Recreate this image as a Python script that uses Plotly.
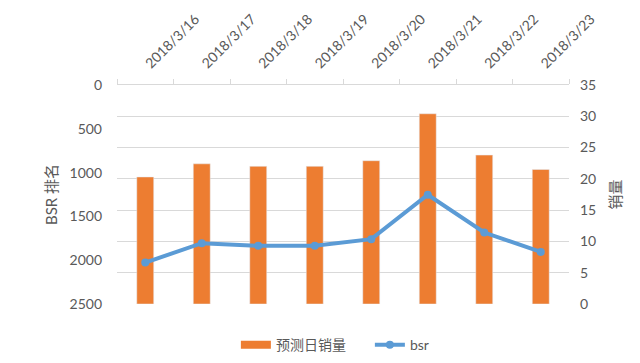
import plotly.graph_objects as go

dates = ["2018/3/16", "2018/3/17", "2018/3/18", "2018/3/19",
         "2018/3/20", "2018/3/21", "2018/3/22", "2018/3/23"]
sales = [20.3, 22.4, 22.0, 22.0, 22.9, 30.4, 23.8, 21.5]
bsr = [2027, 1806, 1836, 1836, 1760, 1253, 1684, 1905]

ORANGE = "#ED7D31"
BLUE = "#5B9BD5"
GRID = "#D9D9D9"
TXT = "#595959"
FONT = "Lato, 'Noto Sans CJK SC', sans-serif"

fig = go.Figure()
fig.add_trace(go.Bar(
    x=dates, y=sales, name="预测日销量", marker_color=ORANGE,
    yaxis="y", xaxis="x", showlegend=False))
# legend entry for the bars, drawn as a wide swatch like the original
fig.add_trace(go.Scatter(
    x=[None], y=[None], name="预测日销量", mode="lines",
    line=dict(color=ORANGE, width=8), yaxis="y", xaxis="x"))
fig.add_trace(go.Scatter(
    x=dates, y=bsr, name="bsr", mode="lines+markers",
    line=dict(color=BLUE, width=4), marker=dict(color=BLUE, size=8),
    yaxis="y2", xaxis="x"))

fig.update_layout(
    width=640, height=363,
    margin=dict(l=117, r=71, t=85, b=59, autoexpand=False),
    paper_bgcolor="white", plot_bgcolor="white",
    font=dict(family=FONT, color=TXT, size=13),
    bargap=0.7,
    showlegend=True,
    legend=dict(orientation="h", x=0.263, xanchor="left", y=-0.115, yanchor="top",
                font=dict(size=14, color=TXT), itemwidth=30, entrywidth=89),
    xaxis=dict(side="top", type="category", tickangle=-45,
               showline=True, linecolor=GRID, linewidth=1,
               ticks="outside", tickson="boundaries", ticklen=5, tickcolor=GRID,
               showgrid=False, tickfont=dict(size=14, color=TXT),
               ticklabelshift=1, ticklabelstandoff=7, automargin=False),
    yaxis=dict(side="right", range=[0, 35], dtick=5,
               showgrid=True, gridcolor=GRID, gridwidth=1, zeroline=False,
               tickfont=dict(size=14, color=TXT), automargin=False,
               ticklabelstandoff=10,
               title=dict(text="销量", font=dict(size=15, color=TXT), standoff=15)),
    yaxis2=dict(side="left", overlaying="y", range=[2500, 0], dtick=500,
                showgrid=False, zeroline=False,
                tickfont=dict(size=14, color=TXT), automargin=False,
                ticklabelstandoff=14,
                title=dict(text="BSR 排名", font=dict(size=15, color=TXT), standoff=8)),
)

fig.write_html("out.html", post_script="document.body.style.margin='0';",
               config={"displayModeBar": False})
